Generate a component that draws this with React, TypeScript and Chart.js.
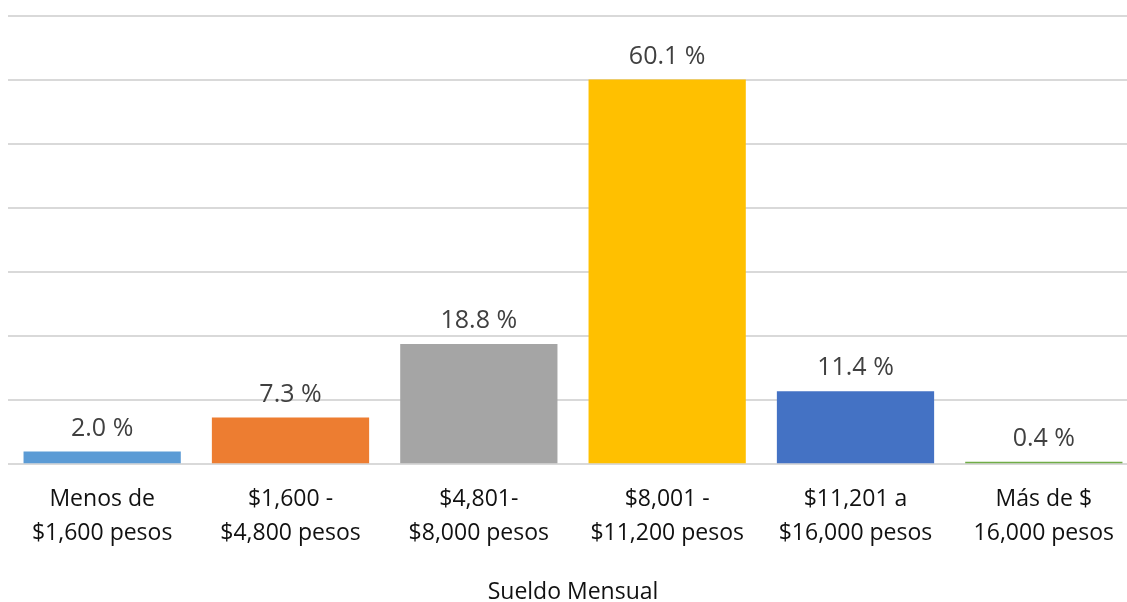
import React, { useEffect, useRef } from "react";
import { Chart, registerables } from "chart.js";

Chart.register(...registerables);

const categories: string[][] = [
  ["Menos de", "$1,600 pesos"],
  ["$1,600 -", "$4,800 pesos"],
  ["$4,801-", "$8,000 pesos"],
  ["$8,001 -", "$11,200 pesos"],
  ["$11,201 a", "$16,000 pesos"],
  ["Más de $", "16,000 pesos"],
];
const values: number[] = [2.0, 7.3, 18.8, 60.1, 11.4, 0.4];
const barColors: string[] = ["#5B9BD5", "#ED7D31", "#A5A5A5", "#FFC000", "#4472C4", "#70AD47"];
const axisTitle = "Sueldo Mensual";

const FONT = "'Open Sans', 'Noto Sans', sans-serif";

const labelPlugin = {
  id: "barLabels",
  afterDatasetsDraw(chart: any) {
    const ctx = chart.ctx;
    const meta = chart.getDatasetMeta(0);
    ctx.save();
    ctx.font = `25px ${FONT}`;
    ctx.fillStyle = "#404040";
    ctx.textAlign = "center";
    ctx.textBaseline = "middle";
    meta.data.forEach((bar: any, i: number) => {
      ctx.fillText(values[i].toFixed(1) + " %", bar.x, bar.y - 23);
    });
    ctx.restore();
  },
};

export default function App() {
  const ref = useRef<HTMLCanvasElement>(null);
  useEffect(() => {
    if (!ref.current) return;
    const chart = new Chart(ref.current, {
      type: "bar",
      data: {
        labels: categories,
        datasets: [
          {
            data: values,
            backgroundColor: barColors,
            borderWidth: 0,
            categoryPercentage: 0.835,
            barPercentage: 1,
          },
        ],
      },
      options: {
        animation: false,
        responsive: true,
        maintainAspectRatio: false,
        layout: { padding: { left: 8, right: 0, top: 16, bottom: -4 } },
        plugins: {
          legend: { display: false },
          tooltip: { enabled: false },
        },
        scales: {
          x: {
            grid: { display: false, drawTicks: false },
            border: { display: false },
            ticks: {
              color: "#111111",
              font: { family: FONT, size: 23, lineHeight: 1.48 },
              padding: 18,
              maxRotation: 0,
              autoSkip: false,
            },
            title: {
              display: true,
              text: axisTitle,
              color: "#111111",
              font: { family: FONT, size: 23, lineHeight: 1.2 },
              padding: { top: 10, bottom: 0 },
            },
          },
          y: {
            min: 0,
            max: 70,
            ticks: { display: false, stepSize: 10 },
            grid: { color: "#D9D9D9", lineWidth: 2, drawTicks: false },
            border: { display: false },
          },
        },
      },
      plugins: [labelPlugin],
    });
    return () => chart.destroy();
  }, []);
  return (
    <div style={{ position: "fixed", left: 0, top: 0, width: 1127, height: 602, overflow: "hidden", background: "#fff" }}>
      <div style={{ position: "absolute", left: 0, top: 0, width: 1138, height: 602 }}>
        <canvas ref={ref} />
      </div>
    </div>
  );
}
